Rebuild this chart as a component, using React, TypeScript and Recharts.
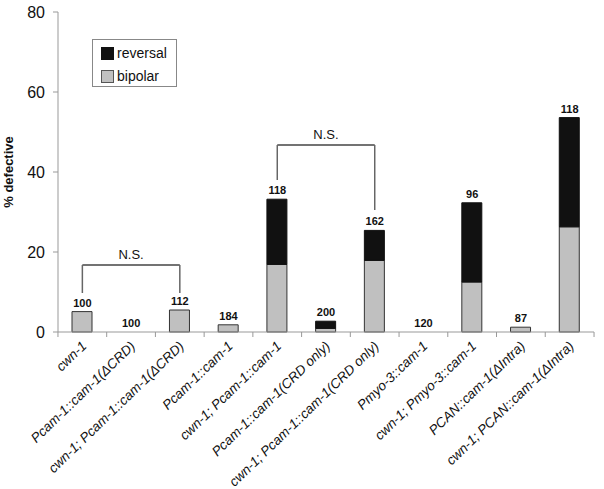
import React from 'react';
import { BarChart, Bar, XAxis, YAxis, ReferenceLine, ReferenceDot } from 'recharts';

const categories = [
  'cwn-1',
  'Pcam-1::cam-1(ΔCRD)',
  'cwn-1; Pcam-1::cam-1(ΔCRD)',
  'Pcam-1::cam-1',
  'cwn-1; Pcam-1::cam-1',
  'Pcam-1::cam-1(CRD only)',
  'cwn-1; Pcam-1::cam-1(CRD only)',
  'Pmyo-3::cam-1',
  'cwn-1; Pmyo-3::cam-1',
  'PCAN::cam-1(ΔIntra)',
  'cwn-1; PCAN::cam-1(ΔIntra)',
];
const bipolar = [5.1, 0, 5.5, 1.8, 16.9, 0.9, 17.9, 0, 12.5, 1.2, 26.3];
const reversal = [0, 0, 0, 0, 16.3, 1.8, 7.5, 0, 19.8, 0, 27.3];
const nLabels = ['100', '100', '112', '184', '118', '200', '162', '120', '96', '87', '118'];
const yTicks = [0, 20, 40, 60, 80];

const data = categories.map((c, i) => ({ name: c, bipolar: bipolar[i], reversal: reversal[i], n: nLabels[i] }));

const FONT = '"Liberation Sans", Arial, sans-serif';
const HALF = 24.4;

const XTick = (props: any) => {
  const { x, y, payload, index } = props;
  return (
    <g>
      <line x1={x - HALF} y1={y} x2={x - HALF} y2={y + 5} stroke="#999" />
      {index === categories.length - 1 && (
        <line x1={x + HALF} y1={y} x2={x + HALF} y2={y + 5} stroke="#999" />
      )}
      <text
        x={x + 5}
        y={y + 15}
        transform={`rotate(-44, ${x + 5}, ${y + 15})`}
        textAnchor="end"
        fontFamily={FONT}
        fontSize={13.5}
        fontStyle="italic"
        fill="#111"
      >
        {payload.value}
      </text>
    </g>
  );
};

const LegendBox = () => (
  <div
    style={{
      position: 'absolute',
      left: 92,
      top: 39,
      border: '1px solid #888',
      width: 85,
      height: 48,
      boxSizing: 'border-box',
      fontFamily: FONT,
      fontSize: 14,
      color: '#111',
      padding: '5px 0 0 8px',
      background: '#fff',
    }}
  >
    <div style={{ display: 'flex', alignItems: 'center', height: 16 }}>
      <span style={{ display: 'inline-block', width: 11, height: 11, background: '#111', border: '1px solid #111', marginRight: 3 }} />
      reversal
    </div>
    <div style={{ display: 'flex', alignItems: 'center', height: 16, marginTop: 7 }}>
      <span style={{ display: 'inline-block', width: 11, height: 11, background: '#c0c0c0', border: '1px solid #555', marginRight: 3 }} />
      bipolar
    </div>
  </div>
);

const nsStyle = { fontFamily: FONT, fontSize: 13, fill: '#111' };

export default function App() {
  return (
    <div style={{ position: 'fixed', left: 0, top: 0, width: 604, height: 489, background: '#fff' }}>
      <BarChart width={604} height={489} data={data} margin={{ top: 12, right: 10, left: 0, bottom: 0 }} barSize={20}>
        <XAxis
          dataKey="name"
          height={157}
          interval={0}
          tickSize={0}
          tickMargin={0}
          tickLine={false}
          axisLine={{ stroke: '#999' }}
          tick={<XTick />}
        />
        <YAxis
          width={58}
          domain={[0, 80]}
          ticks={yTicks}
          tickSize={5}
          tickMargin={8}
          axisLine={{ stroke: '#999' }}
          tickLine={{ stroke: '#999' }}
          tick={{ fontFamily: FONT, fontSize: 16, fill: '#111' }}
          label={{
            value: '% defective',
            angle: -90,
            position: 'insideLeft',
            dx: 3,
            style: { fontFamily: FONT, fontSize: 13, fontWeight: 'bold', fill: '#111', textAnchor: 'middle' },
          }}
        />
        <Bar dataKey="bipolar" stackId="a" fill="#c0c0c0" stroke="#333" strokeWidth={1} isAnimationActive={false} />
        <Bar dataKey="reversal" stackId="a" fill="#111" stroke="#111" strokeWidth={1} isAnimationActive={false} />
        {data.map((d) => (
          <ReferenceDot
            key={d.name}
            x={d.name}
            y={d.bipolar + d.reversal}
            r={0}
            stroke="none"
            fill="none"
            label={{ value: d.n, position: 'top', offset: 5, style: { fontFamily: FONT, fontSize: 11, fontWeight: 'bold', fill: '#111' } }}
          />
        ))}
        <ReferenceLine segment={[{ x: categories[0], y: 16.75 }, { x: categories[2], y: 16.75 }]} stroke="#444" strokeWidth={1.5}
          label={{ value: 'N.S.', position: 'top', offset: 6, style: nsStyle }} />
        <ReferenceLine segment={[{ x: categories[0], y: 16.75 }, { x: categories[0], y: 9.75 }]} stroke="#666" strokeWidth={1.5} />
        <ReferenceLine segment={[{ x: categories[2], y: 16.75 }, { x: categories[2], y: 9.75 }]} stroke="#666" strokeWidth={1.5} />
        <ReferenceLine segment={[{ x: categories[4], y: 46.75 }, { x: categories[6], y: 46.75 }]} stroke="#444" strokeWidth={1.5}
          label={{ value: 'N.S.', position: 'top', offset: 6, style: nsStyle }} />
        <ReferenceLine segment={[{ x: categories[4], y: 46.75 }, { x: categories[4], y: 38 }]} stroke="#666" strokeWidth={1.5} />
        <ReferenceLine segment={[{ x: categories[6], y: 46.75 }, { x: categories[6], y: 30.5 }]} stroke="#666" strokeWidth={1.5} />
      </BarChart>
      <LegendBox />
    </div>
  );
}
